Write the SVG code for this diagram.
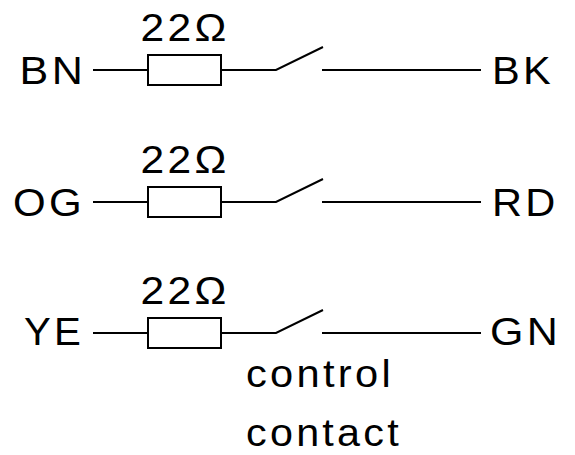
<svg xmlns="http://www.w3.org/2000/svg" width="575" height="455" viewBox="0 0 575 455">
<style>
text{font-family:"Liberation Sans",Arial,sans-serif;font-size:38px;letter-spacing:3px;fill:#000}
.w{stroke:#000;stroke-width:2;fill:none}
.r{stroke:#000;stroke-width:2;fill:#fff}
</style>
<rect width="575" height="455" fill="#fff"/>
<g id="connectors">
<path class="w" d="M93 70H148M221 70H276L323 47M322 70H481"/>
<path class="w" d="M93 202H148M221 202H276L323 179M322 202H481"/>
<path class="w" d="M93 333H148M221 333H276L323 310M322 333H481"/>
</g>
<g id="row1">
<text x="19.6" y="84" textLength="66.6" lengthAdjust="spacingAndGlyphs">BN</text>
<text x="140.4" y="41" textLength="89.3" lengthAdjust="spacingAndGlyphs">22Ω</text>
<rect class="r" x="148" y="55" width="73" height="30"/>
<text x="492" y="84" textLength="62" lengthAdjust="spacingAndGlyphs">BK</text>
</g>
<g id="row2">
<text x="13" y="216" textLength="72" lengthAdjust="spacingAndGlyphs">OG</text>
<text x="140.4" y="173" textLength="89.3" lengthAdjust="spacingAndGlyphs">22Ω</text>
<rect class="r" x="148" y="187" width="73" height="30"/>
<text x="492" y="216" textLength="66.6" lengthAdjust="spacingAndGlyphs">RD</text>
</g>
<g id="row3">
<text x="24" y="345" textLength="60" lengthAdjust="spacingAndGlyphs">YE</text>
<text x="140.4" y="304" textLength="89.3" lengthAdjust="spacingAndGlyphs">22Ω</text>
<rect class="r" x="148" y="318" width="73" height="30"/>
<text x="490" y="345" textLength="71.3" lengthAdjust="spacingAndGlyphs">GN</text>
</g>
<g id="label">
<text x="246" y="387" textLength="148" lengthAdjust="spacingAndGlyphs">control</text>
<text x="246" y="446" textLength="156" lengthAdjust="spacingAndGlyphs">contact</text>
</g>
</svg>
